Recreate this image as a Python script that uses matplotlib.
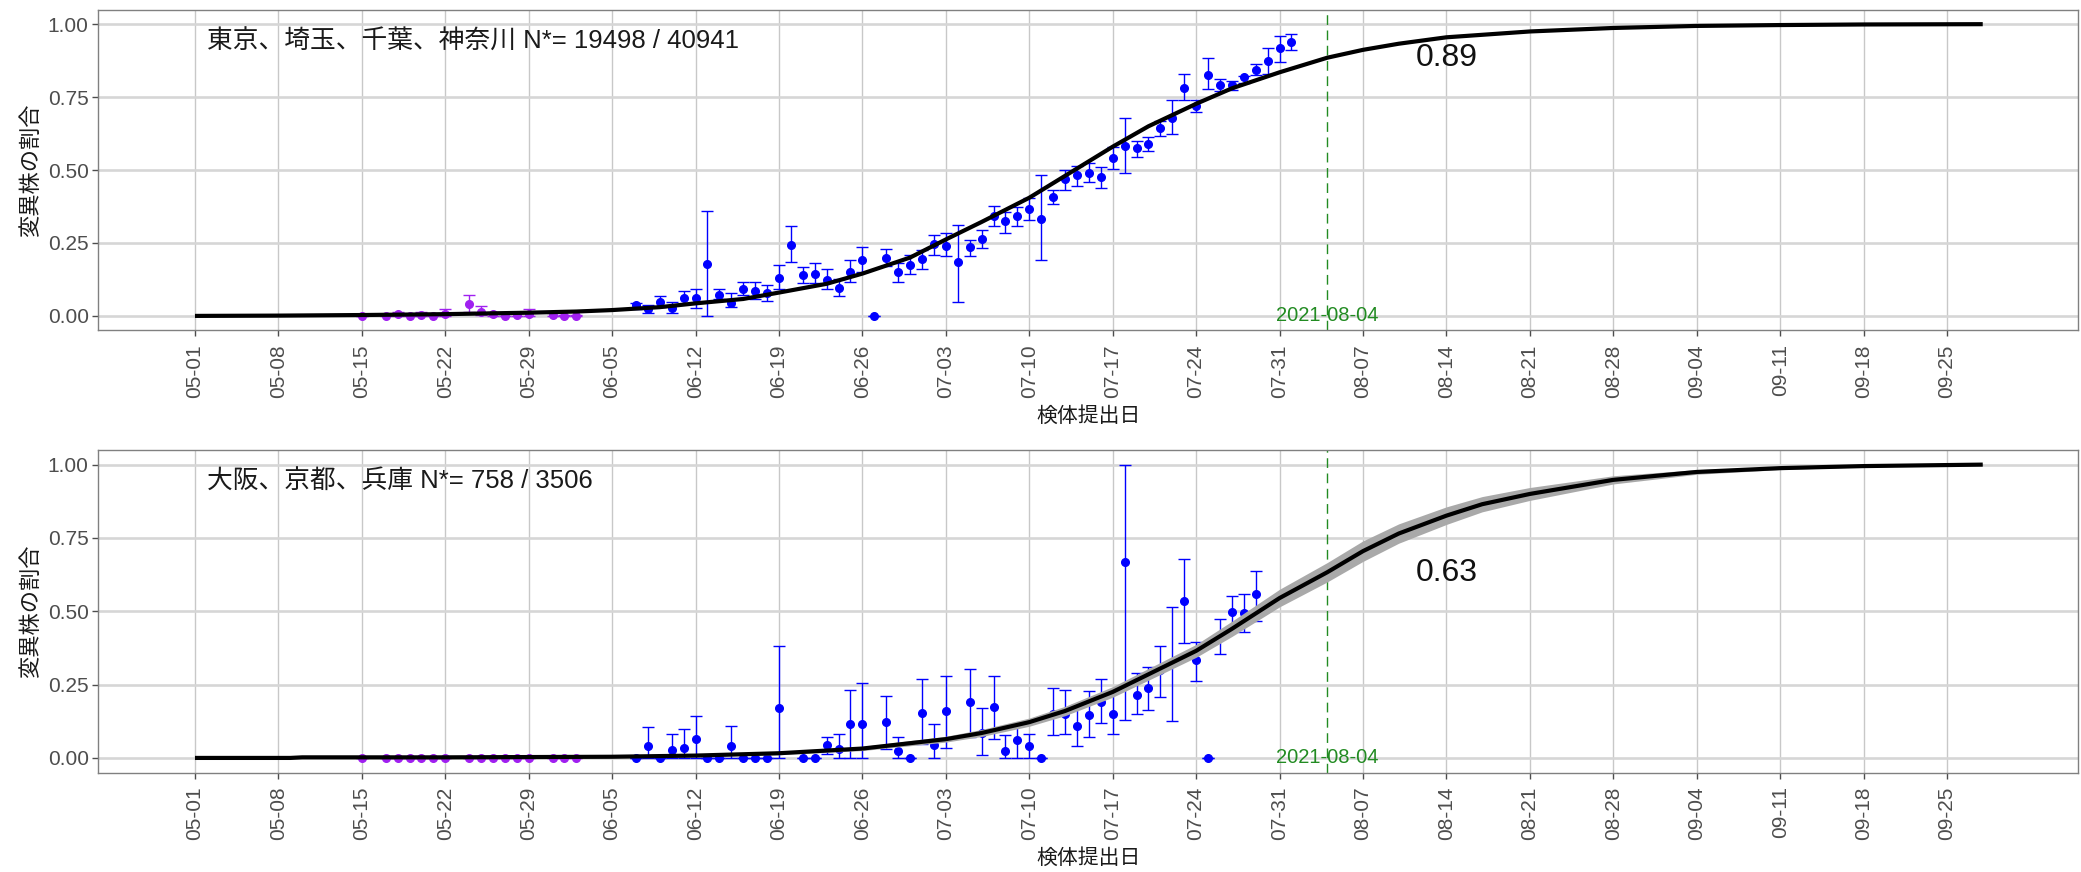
import matplotlib
matplotlib.use('Agg')
import matplotlib.pyplot as plt
import matplotlib.dates as mdates
import pandas as pd

plt.rcParams['font.family'] = ['Liberation Sans', 'Noto Sans CJK JP', 'DejaVu Sans']

# ---------------- data ----------------
region_titles = ['東京、埼玉、千葉、神奈川 N*= 19498 / 40941', '大阪、京都、兵庫 N*= 758 / 3506']
ratio_labels = ['0.89', '0.63']
ratio_values = [0.885, 0.630]
cutoff_date = '08-04'
label_date = '08-14'

# early samples (purple), same days in both panels
purple_dates = ['05-15', '05-17', '05-18', '05-19', '05-20', '05-21', '05-22', '05-24',
                '05-25', '05-26', '05-27', '05-28', '05-29', '05-31', '06-01', '06-02']
top_purple = [0.0, 0.0, 0.005, 0.0, 0.003, 0.0, 0.007, 0.040, 0.015, 0.005, 0.0, 0.003, 0.008, 0.003, 0.0, 0.0]
top_purple_lo = [0.0, 0.0, 0.0, 0.0, 0.0, 0.0, 0.0, 0.012, 0.003, 0.0, 0.0, 0.0, 0.0, 0.0, 0.0, 0.0]
top_purple_hi = [0.0, 0.004, 0.015, 0.004, 0.012, 0.005, 0.024, 0.072, 0.035, 0.012, 0.005, 0.010, 0.022, 0.010, 0.003, 0.003]
bot_purple = [0.0] * 16
bot_purple_lo = [0.0] * 16
bot_purple_hi = [0.0] * 16

# top panel (Kanto) blue samples
top_dates = ['06-07', '06-08', '06-09', '06-10', '06-11', '06-12', '06-13', '06-14', '06-15', '06-16',
             '06-17', '06-18', '06-19', '06-20', '06-21', '06-22', '06-23', '06-24', '06-25', '06-26',
             '06-27', '06-28', '06-29', '06-30', '07-01', '07-02', '07-03', '07-04', '07-05', '07-06',
             '07-07', '07-08', '07-09', '07-10', '07-11', '07-12', '07-13', '07-14', '07-15', '07-16',
             '07-17', '07-18', '07-19', '07-20', '07-21', '07-22', '07-23', '07-24', '07-25', '07-26',
             '07-27', '07-28', '07-29', '07-30', '07-31', '08-01']
top_vals = [0.036, 0.023, 0.048, 0.028, 0.062, 0.062, 0.178, 0.072, 0.045, 0.091,
            0.085, 0.080, 0.130, 0.244, 0.141, 0.145, 0.122, 0.095, 0.150, 0.190,
            0.0, 0.200, 0.150, 0.175, 0.195, 0.247, 0.240, 0.184, 0.235, 0.264,
            0.343, 0.326, 0.343, 0.366, 0.333, 0.407, 0.468, 0.482, 0.491, 0.477,
            0.542, 0.583, 0.576, 0.589, 0.644, 0.680, 0.782, 0.720, 0.827, 0.790,
            0.790, 0.818, 0.843, 0.873, 0.918, 0.940]
top_lo = [0.023, 0.009, 0.032, 0.011, 0.040, 0.028, 0.0, 0.057, 0.032, 0.070,
          0.057, 0.051, 0.091, 0.185, 0.114, 0.114, 0.093, 0.068, 0.116, 0.150,
          0.0, 0.170, 0.116, 0.142, 0.161, 0.210, 0.205, 0.048, 0.205, 0.233,
          0.307, 0.284, 0.307, 0.328, 0.190, 0.384, 0.432, 0.445, 0.460, 0.437,
          0.505, 0.489, 0.545, 0.566, 0.618, 0.625, 0.739, 0.699, 0.778, 0.772,
          0.775, 0.800, 0.825, 0.830, 0.871, 0.911]
top_hi = [0.045, 0.036, 0.068, 0.047, 0.085, 0.093, 0.359, 0.091, 0.080, 0.116,
          0.116, 0.105, 0.173, 0.307, 0.166, 0.180, 0.161, 0.125, 0.191, 0.236,
          0.0, 0.230, 0.182, 0.209, 0.225, 0.277, 0.284, 0.311, 0.261, 0.295,
          0.377, 0.357, 0.375, 0.403, 0.483, 0.432, 0.500, 0.514, 0.523, 0.511,
          0.580, 0.680, 0.600, 0.612, 0.668, 0.739, 0.830, 0.739, 0.884, 0.811,
          0.805, 0.822, 0.862, 0.920, 0.960, 0.968]

# bottom panel (Kansai) blue samples
bot_dates = ['06-07', '06-08', '06-09', '06-10', '06-11', '06-12', '06-13', '06-14', '06-15', '06-16',
             '06-17', '06-18', '06-19', '06-21', '06-22', '06-23', '06-24', '06-25', '06-26', '06-28',
             '06-29', '06-30', '07-01', '07-02', '07-03', '07-05', '07-06', '07-07', '07-08', '07-09',
             '07-10', '07-11', '07-12', '07-13', '07-14', '07-15', '07-16', '07-17', '07-18', '07-19',
             '07-20', '07-21', '07-22', '07-23', '07-24', '07-25', '07-26', '07-27', '07-28', '07-29']
bot_vals = [0.0, 0.040, 0.0, 0.028, 0.034, 0.065, 0.0, 0.0, 0.040, 0.0,
            0.0, 0.0, 0.169, 0.0, 0.0, 0.043, 0.032, 0.114, 0.114, 0.123,
            0.024, 0.0, 0.154, 0.043, 0.159, 0.189, 0.085, 0.174, 0.024, 0.060,
            0.040, 0.0, 0.151, 0.151, 0.109, 0.148, 0.191, 0.151, 0.667, 0.216,
            0.239, 0.300, 0.322, 0.535, 0.334, 0.0, 0.413, 0.497, 0.493, 0.558]
bot_lo = [0.0, 0.0, 0.0, 0.0, 0.0, 0.0, 0.0, 0.0, 0.0, 0.0,
          0.0, 0.0, 0.0, 0.0, 0.0, 0.015, 0.0, 0.0, 0.0, 0.032,
          0.0, 0.0, 0.047, 0.0, 0.034, 0.072, 0.009, 0.063, 0.0, 0.0,
          0.0, 0.0, 0.077, 0.081, 0.041, 0.072, 0.120, 0.081, 0.131, 0.149,
          0.163, 0.208, 0.125, 0.393, 0.263, 0.0, 0.356, 0.445, 0.430, 0.467]
bot_hi = [0.0, 0.106, 0.0, 0.081, 0.100, 0.143, 0.0, 0.0, 0.108, 0.0,
          0.0, 0.0, 0.382, 0.0, 0.0, 0.070, 0.083, 0.233, 0.256, 0.212,
          0.070, 0.0, 0.268, 0.117, 0.280, 0.303, 0.169, 0.279, 0.077, 0.117,
          0.083, 0.0, 0.237, 0.231, 0.180, 0.228, 0.268, 0.225, 1.000, 0.290,
          0.311, 0.382, 0.516, 0.679, 0.395, 0.0, 0.473, 0.552, 0.558, 0.639]

# fitted curves
top_curve_dates = ['05-01', '05-08', '05-15', '05-22', '05-29', '06-02', '06-05', '06-09', '06-12',
                   '06-16', '06-19', '06-23', '06-26', '06-30', '07-03', '07-06', '07-10', '07-13',
                   '07-17', '07-20', '07-24', '07-27', '07-31', '08-04', '08-07', '08-10', '08-14',
                   '08-21', '08-28', '09-04', '09-11', '09-18', '09-28']
top_curve = [0.000, 0.001, 0.003, 0.006, 0.011, 0.015, 0.020, 0.030, 0.043,
             0.058, 0.080, 0.110, 0.145, 0.200, 0.262, 0.322, 0.405, 0.480,
             0.580, 0.650, 0.727, 0.780, 0.835, 0.885, 0.912, 0.933, 0.955,
             0.975, 0.987, 0.994, 0.997, 0.999, 1.000]

bot_curve_dates = ['05-01', '05-09', '05-10', '05-22', '05-29', '06-05', '06-12', '06-19', '06-26',
                   '07-03', '07-06', '07-10', '07-13', '07-17', '07-20', '07-24', '07-27', '07-31',
                   '08-04', '08-07', '08-10', '08-14', '08-17', '08-21', '08-28', '09-04', '09-11',
                   '09-18', '09-28']
bot_curve = [0.000, 0.000, 0.002, 0.002, 0.003, 0.004, 0.008, 0.016, 0.032,
             0.064, 0.085, 0.122, 0.160, 0.225, 0.285, 0.365, 0.440, 0.545,
             0.633, 0.705, 0.765, 0.826, 0.865, 0.900, 0.948, 0.975, 0.988,
             0.995, 1.000]
bot_band_lo = [0.000, 0.000, 0.000, 0.000, 0.001, 0.002, 0.005, 0.011, 0.025,
               0.054, 0.073, 0.108, 0.144, 0.207, 0.265, 0.343, 0.414, 0.515,
               0.600, 0.670, 0.732, 0.796, 0.839, 0.878, 0.934, 0.967, 0.983,
               0.992, 0.998]
bot_band_hi = [0.002, 0.002, 0.004, 0.004, 0.005, 0.006, 0.011, 0.021, 0.039,
               0.074, 0.097, 0.136, 0.176, 0.243, 0.305, 0.387, 0.466, 0.575,
               0.666, 0.740, 0.798, 0.856, 0.891, 0.922, 0.962, 0.983, 0.993,
               0.998, 1.002]


def to_dt(days):
    return pd.to_datetime(['2021-' + d for d in days])


def draw_points(ax, dates, vals, lo, hi, color):
    x = to_dt(dates)
    yerr = [[v - l for v, l in zip(vals, lo)], [h - v for v, h in zip(vals, hi)]]
    ax.errorbar(x, vals, yerr=yerr, fmt='o', color=color, ecolor=color, ms=5.5,
                elinewidth=1.0, capsize=4.3, capthick=1.0, zorder=3)


fig = plt.figure(figsize=(20.81, 8.72), dpi=100)
ax1 = fig.add_axes([0.0473, 0.621, 0.9513, 0.368])
ax2 = fig.add_axes([0.0473, 0.114, 0.9513, 0.370])

start = mdates.date2num(pd.Timestamp('2021-05-01'))
week_ticks = pd.date_range('2021-05-01', '2021-09-25', freq='7D')

panels = [
    (ax1, top_purple, top_purple_lo, top_purple_hi, top_dates, top_vals, top_lo, top_hi,
     top_curve_dates, top_curve, None, None),
    (ax2, bot_purple, bot_purple_lo, bot_purple_hi, bot_dates, bot_vals, bot_lo, bot_hi,
     bot_curve_dates, bot_curve, bot_band_lo, bot_band_hi),
]

for i, (ax, pv, plo, phi, bd, bv, blo, bhi, cd, cv, band_lo, band_hi) in enumerate(panels):
    ax.set_axisbelow(True)
    ax.grid(axis='x', color='#c8c8c8', lw=1.0)
    ax.grid(axis='y', color='#d6d6d6', lw=1.9)

    draw_points(ax, purple_dates, pv, plo, phi, '#a020f0')
    draw_points(ax, bd, bv, blo, bhi, 'blue')

    if band_lo is not None:
        ax.fill_between(to_dt(cd), band_lo, band_hi, color='#a9a9a9', lw=0, zorder=4)
    ax.plot(to_dt(cd), cv, color='black', lw=3.0, zorder=5, solid_capstyle='butt')

    cut = pd.Timestamp('2021-' + cutoff_date)
    ax.axvline(cut, color='forestgreen', lw=1.0, ls=(0, (7, 4)), zorder=2)
    ax.text(cut, 0.0, '2021-' + cutoff_date, color='forestgreen', fontsize=14.5,
            ha='center', va='center', zorder=6)
    ax.text(pd.Timestamp('2021-' + label_date), ratio_values[i], ratio_labels[i],
            fontsize=23, ha='center', va='center', color='#111111', zorder=6)
    ax.text(pd.Timestamp('2021-05-02'), 0.94, region_titles[i], fontsize=18.5,
            ha='left', va='center', color='#1a1a1a')

    ax.set_xlim(start - 8.1, start + 158.0)
    ax.set_ylim(-0.05, 1.05)
    ax.set_xticks(week_ticks)
    ax.xaxis.set_major_formatter(mdates.DateFormatter('%m-%d'))
    ax.set_yticks([0, 0.25, 0.5, 0.75, 1.0])
    ax.set_yticklabels(['0.00', '0.25', '0.50', '0.75', '1.00'])
    ax.tick_params(axis='x', labelrotation=90, labelsize=15, colors='#4d4d4d',
                   length=4, width=1, pad=6)
    ax.tick_params(axis='y', labelsize=15, colors='#4d4d4d', length=4, width=1, pad=3)
    for s in ax.spines.values():
        s.set_color('#808080')
        s.set_linewidth(1.0)
    ax.set_xlabel('検体提出日', fontsize=15, color='#1a1a1a', labelpad=6)
    ax.set_ylabel('変異株の割合', fontsize=16, color='#1a1a1a', labelpad=4)

fig.savefig('out.png', dpi=100)
